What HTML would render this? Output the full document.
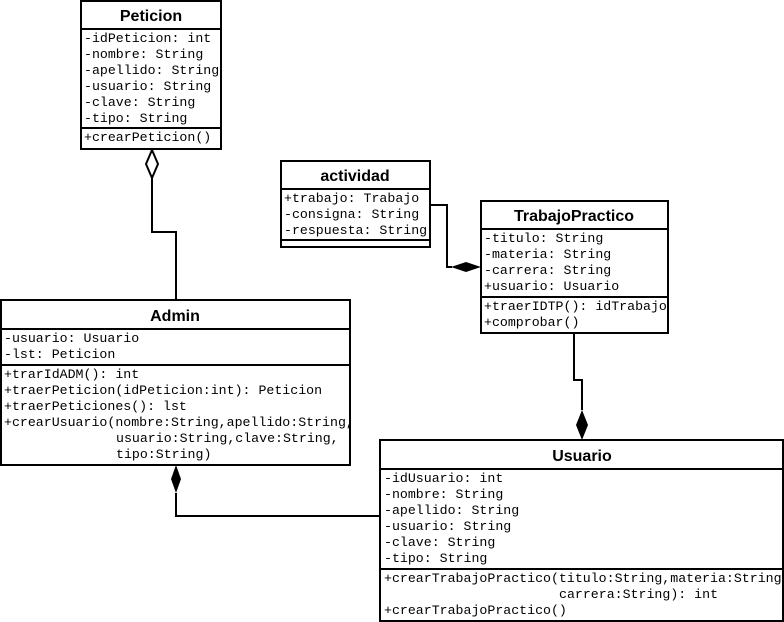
<!DOCTYPE html>
<html><head><meta charset="utf-8"><style>
html,body{margin:0;padding:0;background:#fff;}
svg{display:block;}
.m{font-family:"Liberation Mono",monospace;font-size:13.25px;fill:#000;}
.t{font-family:"Liberation Sans",sans-serif;font-size:16px;font-weight:bold;fill:#000;text-anchor:middle;}
rect{fill:#fff;stroke:#000;stroke-width:2;}
line,polyline{stroke:#000;stroke-width:2;fill:none;}
</style></head><body>
<svg width="784" height="622" viewBox="0 0 784 622">
<polyline points="152,178 152,232 176,232 176,300"/>
<polygon points="152,150 158,164 152,178 146,164" fill="#fff" stroke="#000" stroke-width="2"/>
<polyline points="430,205 447,205 447,267 452,267"/>
<polygon points="481,267 466,262 451,267 466,272" fill="#000"/>
<polyline points="574,333 574,380 582,380 582,410"/>
<polygon points="582,440 588,425 582,410 576,425" fill="#000"/>
<polyline points="176,493 176,516 380,516"/>
<polygon points="176,465 181,479 176,493 171,479" fill="#000"/>

<rect x="81" y="1" width="140" height="148"/>
<line x1="81" y1="29" x2="221" y2="29"/><line x1="81" y1="128" x2="221" y2="128"/>
<text class="t" x="151" y="21">Peticion</text>
<text class="m" x="84" y="42">-idPeticion: int</text>
<text class="m" x="84" y="58">-nombre: String</text>
<text class="m" x="84" y="74">-apellido: String</text>
<text class="m" x="84" y="90">-usuario: String</text>
<text class="m" x="84" y="106">-clave: String</text>
<text class="m" x="84" y="122">-tipo: String</text>
<text class="m" x="84" y="141">+crearPeticion()</text>

<rect x="281" y="161" width="149" height="86"/>
<line x1="281" y1="189" x2="430" y2="189"/><line x1="281" y1="240" x2="430" y2="240"/>
<text class="t" x="355" y="181">actividad</text>
<text class="m" x="284" y="202">+trabajo: Trabajo</text>
<text class="m" x="284" y="218">-consigna: String</text>
<text class="m" x="284" y="234">-respuesta: String</text>

<rect x="481" y="201" width="187" height="132"/>
<line x1="481" y1="229" x2="668" y2="229"/><line x1="481" y1="297" x2="668" y2="297"/>
<text class="t" x="574" y="221">TrabajoPractico</text>
<text class="m" x="484" y="242">-titulo: String</text>
<text class="m" x="484" y="258">-materia: String</text>
<text class="m" x="484" y="274">-carrera: String</text>
<text class="m" x="484" y="290">+usuario: Usuario</text>
<text class="m" x="484" y="310">+traerIDTP(): idTrabajo</text>
<text class="m" x="484" y="326">+comprobar()</text>

<rect x="1" y="300" width="349" height="165"/>
<line x1="1" y1="329" x2="350" y2="329"/><line x1="1" y1="365" x2="350" y2="365"/>
<text class="t" x="175" y="321">Admin</text>
<text class="m" x="4" y="342">-usuario: Usuario</text>
<text class="m" x="4" y="358">-lst: Peticion</text>
<text class="m" x="4" y="378">+trarIdADM(): int</text>
<text class="m" x="4" y="394">+traerPeticion(idPeticion:int): Peticion</text>
<text class="m" x="4" y="410">+traerPeticiones(): lst</text>
<text class="m" x="4" y="426">+crearUsuario(nombre:String,apellido:String,</text>
<text class="m" x="116" y="442">usuario:String,clave:String,</text>
<text class="m" x="116" y="458">tipo:String)</text>

<rect x="380" y="440" width="403" height="181"/>
<line x1="380" y1="469" x2="783" y2="469"/><line x1="380" y1="569" x2="783" y2="569"/>
<text class="t" x="582" y="461">Usuario</text>
<text class="m" x="384" y="482">-idUsuario: int</text>
<text class="m" x="384" y="498">-nombre: String</text>
<text class="m" x="384" y="514">-apellido: String</text>
<text class="m" x="384" y="530">-usuario: String</text>
<text class="m" x="384" y="546">-clave: String</text>
<text class="m" x="384" y="562">-tipo: String</text>
<text class="m" x="384" y="582">+crearTrabajoPractico(titulo:String,materia:String</text>
<text class="m" x="559" y="598">carrera:String): int</text>
<text class="m" x="384" y="614">+crearTrabajoPractico()</text>
</svg>
</body></html>
